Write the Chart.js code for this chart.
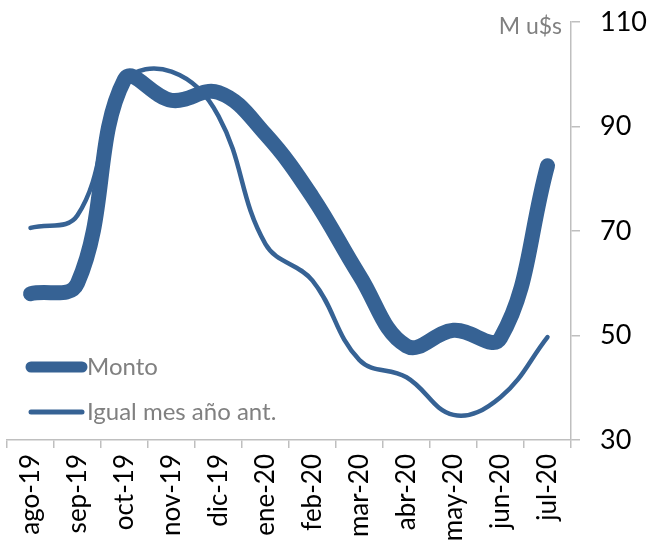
<!DOCTYPE html>
<html>
<head>
<meta charset="utf-8">
<script src="https://cdn.jsdelivr.net/npm/chart.js"></script>
<style>
  html, body { margin: 0; padding: 0; background: #fff; }
  #wrap { width: 653px; height: 552px; }
</style>
</head>
<body>
<div id="wrap"><canvas id="chart"></canvas></div>
<script>
// Datos (M u$s)
var meses = ['ago-19', 'sep-19', 'oct-19', 'nov-19', 'dic-19', 'ene-20', 'feb-20', 'mar-20', 'abr-20', 'may-20', 'jun-20', 'jul-20'];
var monto = [58, 60, 99, 95, 96.5, 88.5, 76.5, 61.5, 48, 51, 49.5, 82.5];
var igualMesAnt = [70.6, 73, 98.5, 100.5, 92, 67.5, 60.5, 45.3, 42, 34.8, 38.2, 49.7];
var yMin = 30, yMax = 110, yStep = 20;
var unidad = 'M u$s';

var azul = '#366294';
var gris = '#BFBFBF';
var fuente = 'Lato, "Open Sans", sans-serif';

// leyenda dentro del area del grafico + etiqueta de unidad
var extras = {
    id: 'extras',
    afterDatasetsDraw: function(chart) {
        var ctx = chart.ctx;
        var y = chart.scales.y;
        ctx.save();
        ctx.fillStyle = '#808080';
        ctx.font = '23px ' + fuente;
        ctx.textAlign = 'right';
        ctx.textBaseline = 'middle';
        ctx.fillText(unidad, y.left - 9, y.top + 5);

        var items = [
            { ds: chart.data.datasets[0], y: 367, w: 11 },
            { ds: chart.data.datasets[1], y: 412, w: 5 }
        ];
        ctx.font = '24px ' + fuente;
        ctx.textAlign = 'left';
        items.forEach(function(it) {
            ctx.strokeStyle = it.ds.borderColor;
            ctx.lineWidth = it.w;
            ctx.lineCap = 'round';
            ctx.beginPath();
            ctx.moveTo(31, it.y);
            ctx.lineTo(82, it.y);
            ctx.stroke();
            ctx.fillText(it.ds.label, 87, it.y);
        });
        ctx.restore();
    }
};

new Chart(document.getElementById('chart'), {
    type: 'line',
    data: {
        labels: meses,
        datasets: [{
            label: 'Monto',
            data: monto,
            borderColor: azul,
            borderWidth: 15,
            borderCapStyle: 'round',
            borderJoinStyle: 'round',
            pointRadius: 0,
            tension: 0.4,
            fill: false
        }, {
            label: 'Igual mes año ant.',
            data: igualMesAnt,
            borderColor: azul,
            borderWidth: 4.5,
            borderCapStyle: 'round',
            borderJoinStyle: 'round',
            pointRadius: 0,
            tension: 0.4,
            fill: false
        }]
    },
    options: {
        responsive: true,
        maintainAspectRatio: false,
        animation: false,
        layout: { padding: { left: 7, top: 0, right: 0, bottom: 0 } },
        plugins: {
            legend: { display: false },
            tooltip: { enabled: false }
        },
        scales: {
            x: {
                offset: true,
                grid: { offset: true, drawOnChartArea: false, drawTicks: true, tickLength: 8, color: gris, lineWidth: 1.5 },
                border: { color: gris, width: 1.5 },
                ticks: { autoSkip: false, minRotation: 90, maxRotation: 90, color: '#000', font: { family: fuente, size: 26 }, padding: 6 },
                afterFit: function(s) { s.height = 112; }
            },
            y: {
                position: 'right',
                min: yMin,
                max: yMax,
                grid: { drawOnChartArea: false, drawTicks: true, tickLength: 9, color: gris, lineWidth: 1.5 },
                border: { color: gris, width: 1.5 },
                ticks: { stepSize: yStep, color: '#000', font: { family: fuente, size: 27 }, padding: 20 },
                afterFit: function(s) { s.width = 82; s.paddingTop = 22; s.paddingBottom = 0; }
            }
        }
    },
    plugins: [extras]
});
</script>
</body>
</html>
